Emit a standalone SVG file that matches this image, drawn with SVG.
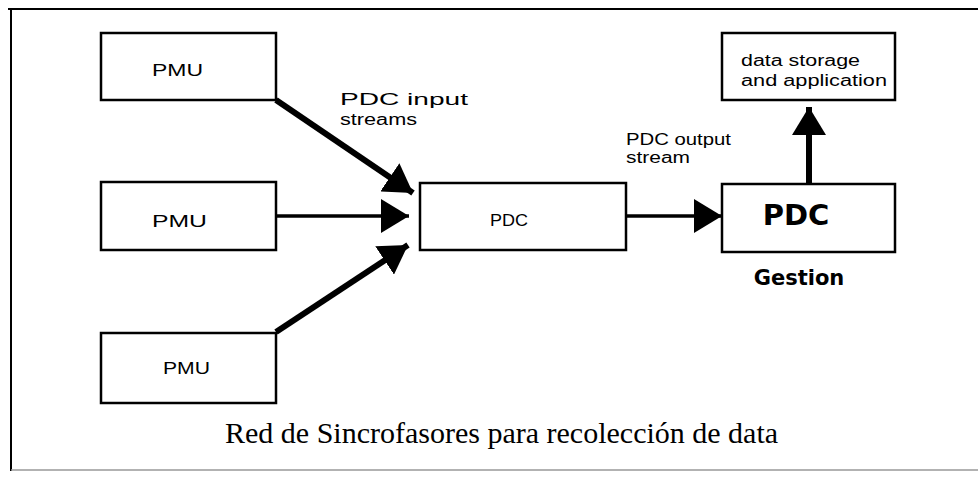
<svg xmlns="http://www.w3.org/2000/svg" width="978" height="481" viewBox="0 0 978 481">
<style>
.box{fill:#fff;stroke:#000;stroke-width:2.5}
.lbl{font-family:"Liberation Sans",Arial,sans-serif;font-size:16px;fill:#000}
.bold{font-family:"DejaVu Sans",Verdana,sans-serif;font-weight:bold;fill:#000}
.cap{font-family:"Liberation Serif","Times New Roman",serif;font-size:30px;fill:#000}
.conn{stroke:#000;fill:none}
</style>
<defs>
<marker id="ah" markerUnits="userSpaceOnUse" markerWidth="30" markerHeight="34" refX="28" refY="17" orient="auto">
<path d="M0,0 L28,17 L0,34 Z" fill="#000"/>
</marker>
</defs>
<g id="frame">
<path d="M8,9 H978" stroke="#000" stroke-width="2" fill="none"/>
<path d="M11,8 V471" stroke="#000" stroke-width="2" fill="none"/>
<path d="M11,470 H978" stroke="#999" stroke-width="1.5" fill="none"/>
</g>
<g id="connectors">
<line class="conn" x1="276" y1="100" x2="413" y2="193" stroke-width="6" marker-end="url(#ah)"/>
<line class="conn" x1="277" y1="216" x2="409" y2="216" stroke-width="3.5" marker-end="url(#ah)"/>
<line class="conn" x1="276" y1="332" x2="408" y2="245" stroke-width="6" marker-end="url(#ah)"/>
<line class="conn" x1="627" y1="216" x2="722" y2="216" stroke-width="3.5" marker-end="url(#ah)"/>
<line class="conn" x1="809" y1="184" x2="809" y2="107" stroke-width="6" marker-end="url(#ah)"/>
<text class="lbl" x="340" y="105" textLength="128" lengthAdjust="spacingAndGlyphs">PDC input</text>
<text class="lbl" x="340" y="125" textLength="77" lengthAdjust="spacingAndGlyphs">streams</text>
<text class="lbl" x="626" y="145" textLength="105" lengthAdjust="spacingAndGlyphs">PDC output</text>
<text class="lbl" x="626" y="163" textLength="64" lengthAdjust="spacingAndGlyphs">stream</text>
</g>
<g id="pmu1">
<rect class="box" x="101" y="33" width="175" height="67"/>
<text class="lbl" x="152" y="76" textLength="51" lengthAdjust="spacingAndGlyphs">PMU</text>
</g>
<g id="pmu2">
<rect class="box" x="101" y="182" width="175" height="68"/>
<text class="lbl" x="152" y="227" textLength="55" lengthAdjust="spacingAndGlyphs">PMU</text>
</g>
<g id="pmu3">
<rect class="box" x="101" y="333" width="175" height="70"/>
<text class="lbl" x="163" y="374" textLength="47" lengthAdjust="spacingAndGlyphs">PMU</text>
</g>
<g id="pdc">
<rect class="box" x="420" y="183" width="206" height="67"/>
<text class="lbl" x="490" y="226" textLength="38" lengthAdjust="spacingAndGlyphs">PDC</text>
</g>
<g id="pdc-gestion">
<rect class="box" x="722" y="184" width="173" height="68"/>
<text class="bold" x="796" y="225" font-size="29" text-anchor="middle">PDC</text>
<text class="bold" x="799" y="285" font-size="21" text-anchor="middle">Gestion</text>
</g>
<g id="storage">
<rect class="box" x="722" y="33" width="173" height="67"/>
<text class="lbl" x="741" y="66" textLength="119" lengthAdjust="spacingAndGlyphs">data storage</text>
<text class="lbl" x="741" y="86" textLength="146" lengthAdjust="spacingAndGlyphs">and application</text>
</g>
<g id="caption">
<text class="cap" x="225" y="443">Red de Sincrofasores para recolección de data</text>
</g>
</svg>
